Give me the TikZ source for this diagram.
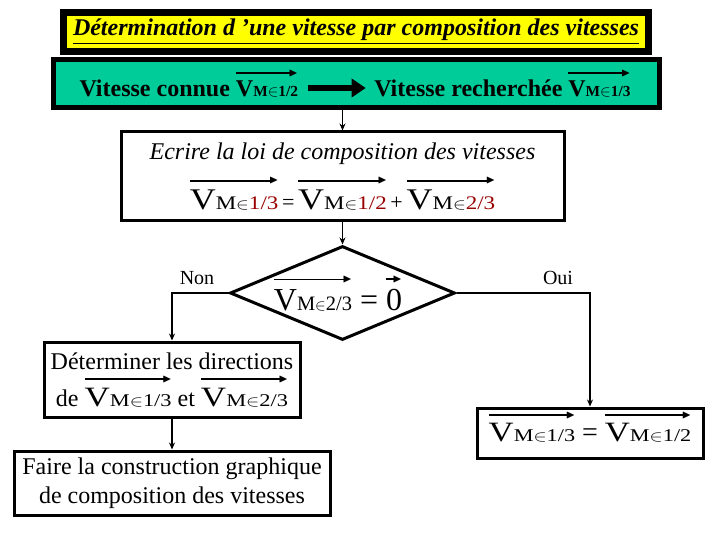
\documentclass[tikz,border=0pt]{standalone}
\usepackage{amssymb}
\usepackage{fontspec}
\setmainfont{Liberation Serif}
\usepackage{graphicx}
\usepackage{xcolor}
\usetikzlibrary{shapes.geometric,arrows.meta}

\definecolor{bandgreen}{RGB}{0,204,153}
\definecolor{titleyellow}{RGB}{255,255,0}
\definecolor{subred}{RGB}{153,0,0}

\newsavebox\vitbox
\newcommand\vitx{1}
\newcommand\vitarrow[1]{\hbox to#1{\leaders\hrule height.9pt depth.9pt\hfill\kern-2pt\raisebox{-3pt}{\fontsize{12}{12}\selectfont$\blacktriangleright$}}}
\newcommand\vecbox[1]{\sbox\vitbox{\scalebox{\vitx}[1]{#1}}%
  \rlap{\raisebox{\dimexpr\ht\vitbox+.3em\relax}[0pt][0pt]{\vitarrow{\wd\vitbox}}}\usebox\vitbox}
\newcommand\vit[1]{\vecbox{V\scalebox{.64}{#1}}}
\newcommand\dans{$\in$}

\tikzset{
  box/.style={draw, line width=3pt, fill=white, align=center, inner sep=0pt},
  link/.style={line width=1.8pt, -{Stealth[length=7pt,width=6pt]}},
  answer/.style={font=\fontsize{20}{24}\selectfont}
}

\begin{document}
\begin{tikzpicture}[x=1pt,y=-1pt]
\useasboundingbox (0,0) rectangle (720,540);

\node[draw, line width=7pt, fill=titleyellow, minimum width=585pt, minimum height=39pt,
  font=\fontsize{24}{26}\selectfont\bfseries\itshape] (title) at (356,32)
  {\underline{Détermination d ’une vitesse par composition des vitesses}};
\node[draw, line width=5pt, fill=bandgreen, minimum width=606pt, minimum height=48pt] (band) at (356.5,83.5) {};
\node[font=\fontsize{24}{26}\selectfont\bfseries, anchor=west] (known) at (76,88) {Vitesse connue \vit{M\dans1/2}};
\node[font=\fontsize{24}{26}\selectfont\bfseries, anchor=east] (sought) at (634,88) {Vitesse recherchée \vit{M\dans1/3}};
\draw[line width=6pt, -{Triangle[length=14pt,width=18pt]}, shorten <=6pt, shorten >=5pt] (known) -- (sought);

\node[box, minimum width=443pt, minimum height=89pt, font=\fontsize{24}{50}\selectfont] (law) at (342.5,176.5)
  {{\itshape Ecrire la loi de composition des vitesses}\\
   {\fontsize{30}{50}\selectfont\renewcommand\vitx{1.2}\vit{M\dans\textcolor{subred}{1/3}}{\fontsize{22}{22}\selectfont\,=\,}\vit{M\dans\textcolor{subred}{1/2}}{\fontsize{22}{22}\selectfont\,+\,}\vit{M\dans\textcolor{subred}{2/3}}}};

\node[diamond, draw, line width=3pt, minimum width=225pt, minimum height=94pt, inner sep=0pt] (test) at (342.5,293) {};
\node[font=\fontsize{32}{34}\selectfont, anchor=base] (testtext) at (338,310) {\vit{M\dans2/3} = \vecbox{0}};

\node[box, minimum width=256pt, minimum height=75pt, font=\fontsize{24}{37}\selectfont] (dirs) at (172,379.5)
  {Déterminer les directions\\
   de {\fontsize{28}{37}\selectfont\renewcommand\vitx{1.25}\vit{M\dans1/3}} et {\fontsize{28}{37}\selectfont\renewcommand\vitx{1.25}\vit{M\dans2/3}}};
\node[box, minimum width=316pt, minimum height=64pt, font=\fontsize{24}{29}\selectfont] (graph) at (172,483)
  {Faire la construction graphique\\de composition des vitesses};
\node[box, minimum width=226pt, minimum height=50pt, font=\fontsize{28}{30}\selectfont] (equal) at (590,433)
  {\renewcommand\vitx{1.24}\vit{M\dans1/3} = \vit{M\dans1/2}};

\node[answer] (no) at (197,278) {Non};
\node[answer] (yes) at (558,278) {Oui};

\draw[link] (band.south -| law.north) -- (law.north);
\draw[link] (law) -- (test);
\draw[link] (test.west) -| (dirs.north);
\draw[link] (dirs) -- (graph);
\draw[link] (test.east) -| (equal.north);
\end{tikzpicture}
\end{document}
